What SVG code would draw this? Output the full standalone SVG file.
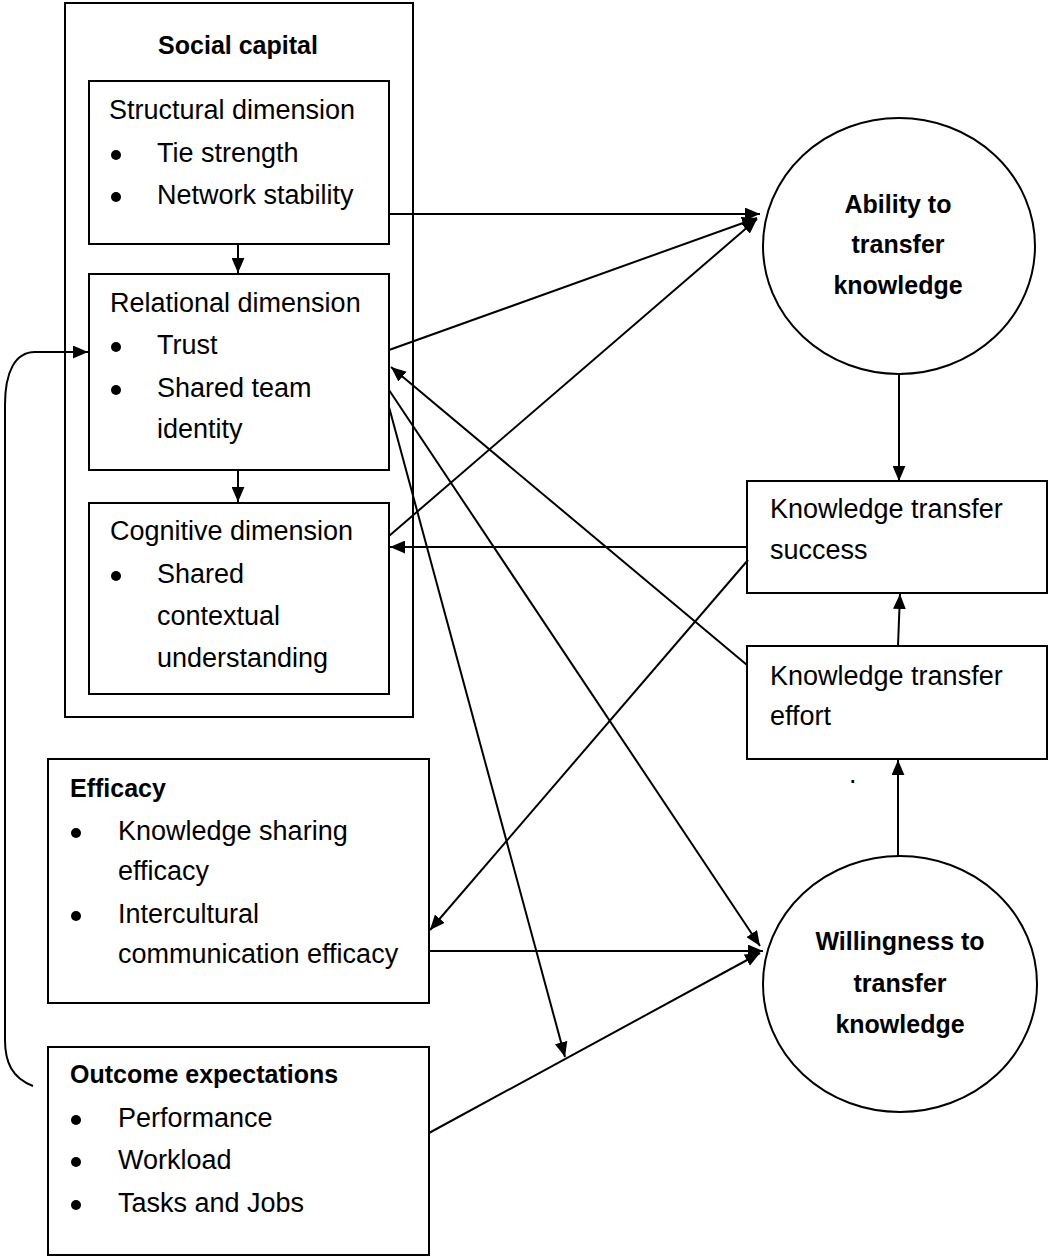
<svg xmlns="http://www.w3.org/2000/svg" width="1049" height="1258" viewBox="0 0 1049 1258">
<style>
.box{fill:#fff;stroke:#000;stroke-width:2}
.outer{fill:none;stroke:#000;stroke-width:2}
.t{font-family:"Liberation Sans",Arial,sans-serif;font-size:27px;fill:#000}
.b{font-family:"Liberation Sans",Arial,sans-serif;font-size:25px;font-weight:bold;fill:#000}
.c{text-anchor:middle}
.bul{fill:#000}
.con{fill:none;stroke:#000;stroke-width:2}
</style>
<defs>
<marker id="ah" viewBox="0 0 14 12" refX="14" refY="6" markerWidth="15" markerHeight="13" orient="auto" markerUnits="userSpaceOnUse">
<path d="M0,0 L14,6 L0,12 z" fill="#000"/>
</marker>
</defs>
<rect width="1049" height="1258" fill="#fff"/>

<g id="social-capital">
<rect class="outer" x="65" y="3" width="348" height="714"/>
<text class="b c" x="238" y="54">Social capital</text>
</g>

<g id="structural">
<rect class="box" x="89" y="81" width="300" height="163"/>
<text class="t" x="109" y="119">Structural dimension</text>
<circle class="bul" cx="116" cy="155" r="5"/>
<text class="t" x="157" y="162">Tie strength</text>
<circle class="bul" cx="116" cy="197" r="5"/>
<text class="t" x="157" y="204">Network stability</text>
</g>

<g id="relational">
<rect class="box" x="89" y="274" width="300" height="196"/>
<text class="t" x="110" y="312">Relational dimension</text>
<circle class="bul" cx="116" cy="347" r="5"/>
<text class="t" x="157" y="354">Trust</text>
<circle class="bul" cx="116" cy="390" r="5"/>
<text class="t" x="157" y="397">Shared team</text>
<text class="t" x="157" y="438">identity</text>
</g>

<g id="cognitive">
<rect class="box" x="89" y="503" width="300" height="191"/>
<text class="t" x="110" y="540">Cognitive dimension</text>
<circle class="bul" cx="116" cy="576" r="5"/>
<text class="t" x="157" y="583">Shared</text>
<text class="t" x="157" y="625">contextual</text>
<text class="t" x="157" y="667">understanding</text>
</g>

<g id="efficacy">
<rect class="box" x="48" y="759" width="381" height="244"/>
<text class="b" x="70" y="797">Efficacy</text>
<circle class="bul" cx="76" cy="833" r="5"/>
<text class="t" x="118" y="840">Knowledge sharing</text>
<text class="t" x="118" y="880">efficacy</text>
<circle class="bul" cx="76" cy="916" r="5"/>
<text class="t" x="118" y="923">Intercultural</text>
<text class="t" x="118" y="963">communication efficacy</text>
</g>

<g id="outcome">
<rect class="box" x="48" y="1047" width="381" height="208"/>
<text class="b" x="70" y="1083">Outcome expectations</text>
<circle class="bul" cx="76" cy="1120" r="5"/>
<text class="t" x="118" y="1127">Performance</text>
<circle class="bul" cx="76" cy="1162" r="5"/>
<text class="t" x="118" y="1169">Workload</text>
<circle class="bul" cx="76" cy="1205" r="5"/>
<text class="t" x="118" y="1212">Tasks and Jobs</text>
</g>

<g id="ability">
<ellipse class="box" cx="899" cy="246" rx="136" ry="128"/>
<text class="b c" x="898" y="213">Ability to</text>
<text class="b c" x="898" y="253">transfer</text>
<text class="b c" x="898" y="294">knowledge</text>
</g>

<g id="kt-success">
<rect class="box" x="747" y="481" width="300" height="112"/>
<text class="t" x="770" y="518">Knowledge transfer</text>
<text class="t" x="770" y="559">success</text>
</g>

<g id="kt-effort">
<rect class="box" x="747" y="646" width="300" height="113"/>
<text class="t" x="770" y="685">Knowledge transfer</text>
<text class="t" x="770" y="725">effort</text>
<text class="t" x="849" y="783" font-size="16">.</text>
</g>

<g id="willingness">
<ellipse class="box" cx="900" cy="984" rx="137" ry="128"/>
<text class="b c" x="900" y="950">Willingness to</text>
<text class="b c" x="900" y="992">transfer</text>
<text class="b c" x="900" y="1033">knowledge</text>
</g>

<g id="connectors">
<path class="con" d="M389,214 L760,214" marker-end="url(#ah)"/>
<path class="con" d="M389,350 L757,218" marker-end="url(#ah)"/>
<path class="con" d="M389,536 L757,219" marker-end="url(#ah)"/>
<path class="con" d="M899,374 L899,481" marker-end="url(#ah)"/>
<path class="con" d="M898,646 L900,594" marker-end="url(#ah)"/>
<path class="con" d="M898,856 L898,760" marker-end="url(#ah)"/>
<path class="con" d="M747,547 L390,547" marker-end="url(#ah)"/>
<path class="con" d="M747,665 L391,367" marker-end="url(#ah)"/>
<path class="con" d="M748,560 L430,930" marker-end="url(#ah)"/>
<path class="con" d="M389,390 L760,946" marker-end="url(#ah)"/>
<path class="con" d="M389,407 L565,1057" marker-end="url(#ah)"/>
<path class="con" d="M429,951 L763,951" marker-end="url(#ah)"/>
<path class="con" d="M429,1133 L760,953" marker-end="url(#ah)"/>
<path class="con" d="M238,244 L238,273" marker-end="url(#ah)"/>
<path class="con" d="M238,470 L238,502" marker-end="url(#ah)"/>
<path class="con" d="M33,1086 C12,1078 5,1062 5,1040 L5,405 C5,372 15,352 35,352 L88,352" marker-end="url(#ah)"/>
</g>
</svg>
